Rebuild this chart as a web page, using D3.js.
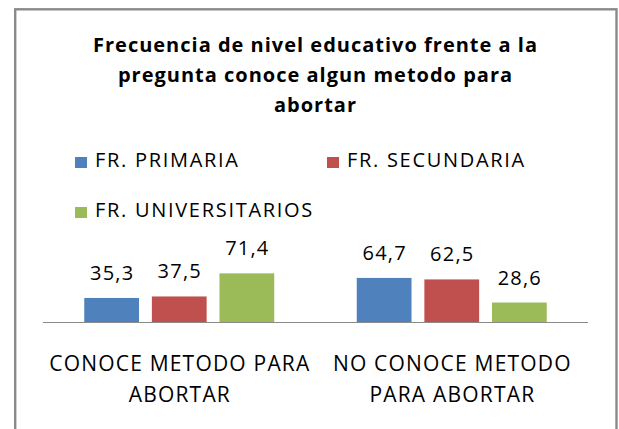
<!DOCTYPE html>
<html>
<head>
<meta charset="utf-8">
<script src="https://cdn.jsdelivr.net/npm/d3@7"></script>
<style>
  body { margin: 0; background: #fff; }
  svg text { font-family: "Open Sans", sans-serif; fill: #000; }
</style>
</head>
<body>
<svg id="chart"></svg>
<script>
//**** DATA ****//
const categories = [["CONOCE METODO PARA", "ABORTAR"], ["NO CONOCE METODO", "PARA ABORTAR"]];
const seriesNames = ["FR. PRIMARIA", "FR. SECUNDARIA", "FR. UNIVERSITARIOS"];
const primaria = [35.3, 64.7];
const secundaria = [37.5, 62.5];
const universitarios = [71.4, 28.6];
const titleLines = ["Frecuencia de nivel educativo frente a la", "pregunta conoce algun metodo para", "abortar"];

const seriesValues = [primaria, secundaria, universitarios];
const colors = ["#4F81BD", "#C0504D", "#9BBB59"];

const width = 619,
      height = 429;

const svg = d3.select("#chart")
    .attr("width", width)
    .attr("height", height);

// chart frame (bottom edge is cut off in the picture)
svg.append("rect")
    .attr("x", 15.2).attr("y", 9.3)
    .attr("width", 601.3).attr("height", 440)
    .attr("fill", "#fff")
    .attr("stroke", "#8a8a8a")
    .attr("stroke-width", 2.4);

// title
svg.append("g").selectAll("text")
    .data(titleLines)
    .enter().append("text")
    .attr("x", 315.5)
    .attr("y", (d, i) => 52 + i * 30)
    .attr("text-anchor", "middle")
    .style("font-size", "20px")
    .style("font-weight", "bold")
    .style("letter-spacing", "1px")
    .text(d => d);

// legend
const legendPos = [[75, 167], [327, 167], [75, 217]];
const legend = svg.append("g").selectAll("g")
    .data(seriesNames)
    .enter().append("g")
    .attr("transform", (d, i) => "translate(" + legendPos[i][0] + "," + legendPos[i][1] + ")");
legend.append("rect")
    .attr("x", 0).attr("y", -10)
    .attr("width", 12).attr("height", 11)
    .attr("fill", (d, i) => colors[i]);
legend.append("text")
    .attr("x", 20).attr("y", 0)
    .style("font-size", "20px")
    .style("letter-spacing", "1.7px")
    .text(d => d);

// scales
const x0 = d3.scaleBand()
    .domain(d3.range(categories.length))
    .range([43, 588]);

const x1 = d3.scaleBand()
    .domain(d3.range(seriesNames.length))
    .range([-95, 95])
    .paddingInner(0.19);

const y = d3.scaleLinear()
    .domain([0, 80])
    .range([322, 267.5]);

// bars
const groups = svg.append("g").selectAll("g")
    .data(categories)
    .enter().append("g")
    .attr("transform", (d, i) => "translate(" + (x0(i) + x0.bandwidth() / 2) + ",0)");

groups.selectAll("rect")
    .data((d, ci) => seriesValues.map((s, si) => ({ si: si, v: s[ci] })))
    .enter().append("rect")
    .attr("x", d => x1(d.si))
    .attr("width", x1.bandwidth())
    .attr("y", d => y(d.v))
    .attr("height", d => y(0) - y(d.v))
    .attr("fill", d => colors[d.si]);

groups.selectAll("text.val")
    .data((d, ci) => seriesValues.map((s, si) => ({ si: si, v: s[ci] })))
    .enter().append("text")
    .attr("class", "val")
    .attr("x", d => x1(d.si) + x1.bandwidth() / 2 + 0.5)
    .attr("y", d => y(d.v) - 18)
    .attr("text-anchor", "middle")
    .style("font-size", "20px")
    .style("letter-spacing", "1.2px")
    .text(d => d3.format(".1f")(d.v).replace(".", ","));

// category axis line
svg.append("line")
    .attr("x1", 43).attr("x2", 588)
    .attr("y1", y(0) + 0.5).attr("y2", y(0) + 0.5)
    .attr("stroke", "#8a8a8a")
    .attr("stroke-width", 1);

// category labels
groups.selectAll("text.cat")
    .data(d => d)
    .enter().append("text")
    .attr("class", "cat")
    .attr("x", 0.6)
    .attr("y", (d, i) => 371 + i * 31)
    .attr("text-anchor", "middle")
    .style("font-size", "21px")
    .style("letter-spacing", "1.2px")
    .text(d => d);
</script>
</body>
</html>
